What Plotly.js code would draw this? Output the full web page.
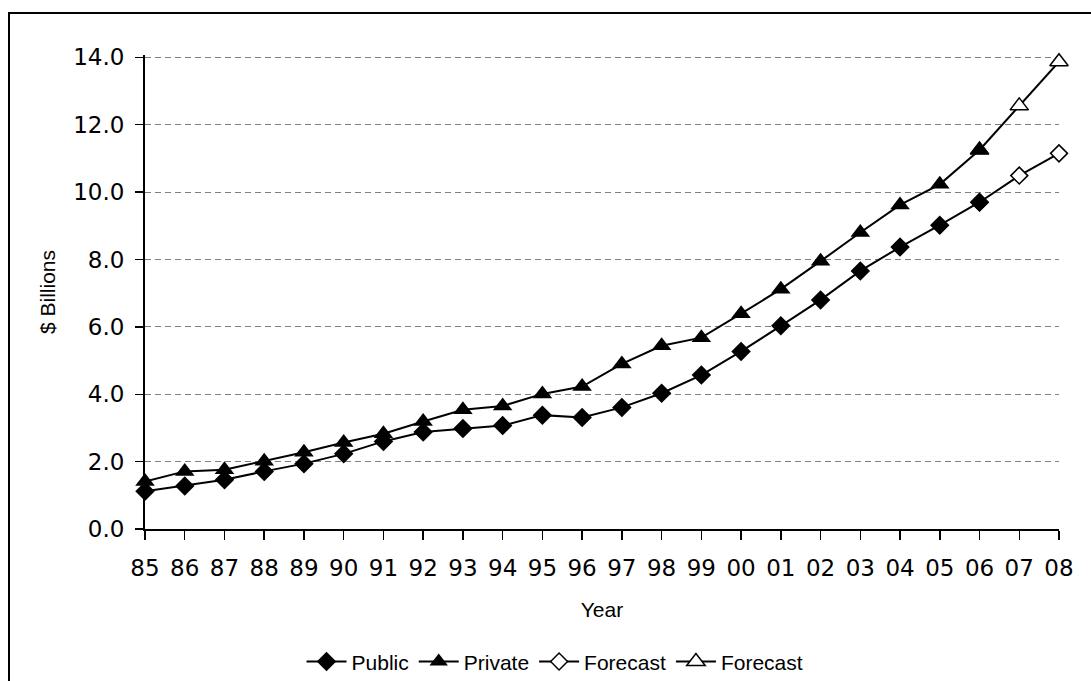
<!DOCTYPE html>
<html>
<head>
<meta charset="utf-8">
<script src="https://cdn.plot.ly/plotly-3.0.1.min.js"></script>
<style>
  html, body { margin: 0; padding: 0; background: #fff; overflow: hidden; }
  #wrap { position: relative; width: 1091px; height: 681px; overflow: hidden; }
  #chart { position: absolute; left: 0; top: 0; width: 1091px; height: 681px; }
  #frame { position: absolute; left: 8px; top: 12px; width: 1200px; height: 900px;
           border: 2px solid #000; pointer-events: none; box-sizing: border-box; }
</style>
</head>
<body>
<div id="wrap">
  <div id="chart"></div>
  <div id="frame"></div>
</div>
<script>
// ---- data ----
const years = ["85","86","87","88","89","90","91","92","93","94","95","96",
               "97","98","99","00","01","02","03","04","05","06","07","08"];
const actualYears = years.slice(0, 22);          // 85 .. 06
const forecastYears = ["07","08"];
const publicVals  = [1.12,1.28,1.46,1.71,1.94,2.23,2.60,2.88,2.98,3.07,3.38,3.31,
                     3.61,4.03,4.57,5.27,6.03,6.80,7.66,8.37,9.02,9.70];
const privateVals = [1.41,1.71,1.76,2.01,2.28,2.57,2.83,3.19,3.54,3.65,4.01,4.23,
                     4.90,5.44,5.68,6.39,7.12,7.95,8.80,9.62,10.23,11.25];
const forecastPublic  = [10.49, 11.15];
const forecastPrivate = [12.56, 13.87];
const yTickVals = [0,2,4,6,8,10,12,14];
const yTickText = ["0.0","2.0","4.0","6.0","8.0","10.0","12.0","14.0"];

// forecast lines start from the last actual point
const lastYear = actualYears[actualYears.length - 1];
const fcX = [lastYear].concat(forecastYears);
const fcPub = [publicVals[publicVals.length - 1]].concat(forecastPublic);
const fcPriv = [privateVals[privateVals.length - 1]].concat(forecastPrivate);

const lineStyle = {color: "#000", width: 2};
const traces = [
  {x: fcX, y: fcPub, name: "Forecast", type: "scatter", mode: "lines+markers",
   line: lineStyle, legendrank: 3, cliponaxis: false,
   marker: {symbol: "diamond", size: 13, color: "#fff", line: {color: "#000", width: 1.5}}},
  {x: fcX, y: fcPriv, name: "Forecast", type: "scatter", mode: "lines+markers",
   line: lineStyle, legendrank: 4, cliponaxis: false,
   marker: {symbol: "triangle-up", size: 16, color: "#fff", line: {color: "#000", width: 1.5}}},
  {x: actualYears, y: publicVals, name: "Public", type: "scatter", mode: "lines+markers",
   line: lineStyle, legendrank: 1, cliponaxis: false,
   marker: {symbol: "diamond", size: 15, color: "#000", line: {color: "#000", width: 0}}},
  {x: actualYears, y: privateVals, name: "Private", type: "scatter", mode: "lines+markers",
   line: lineStyle, legendrank: 2, cliponaxis: false,
   marker: {symbol: "triangle-up", size: 17, color: "#000", line: {color: "#000", width: 0}}}
];

const tickFont = {family: "DejaVu Sans, Verdana, sans-serif", size: 23, color: "#000"};
const textFont = {family: "Liberation Sans, Arial, sans-serif", size: 21, color: "#000"};

const layout = {
  width: 1091, height: 681,
  margin: {l: 145, r: 32, t: 55, b: 152, autoexpand: false},
  paper_bgcolor: "rgba(0,0,0,0)", plot_bgcolor: "rgba(0,0,0,0)",
  showlegend: true,
  legend: {orientation: "h", x: 0.4486, xanchor: "center", y: -0.237, yanchor: "top",
           font: textFont, traceorder: "normal", itemwidth: 40},
  xaxis: {
    type: "category", categoryorder: "array", categoryarray: years,
    range: [0, 23], showline: true, linecolor: "#000", linewidth: 2,
    ticks: "outside", ticklen: 9, tickwidth: 1.5, tickcolor: "#000",
    tickfont: tickFont, showgrid: false, zeroline: false, ticklabelstandoff: 8,
    automargin: false,
    title: {text: "Year", font: textFont, standoff: 23}, fixedrange: true
  },
  yaxis: {
    range: [0, 14.07], tickvals: yTickVals, ticktext: yTickText,
    showline: true, linecolor: "#000", linewidth: 2,
    ticks: "outside", ticklen: 8, tickwidth: 1.5, tickcolor: "#000",
    tickfont: tickFont, ticklabelstandoff: 6, automargin: false,
    showgrid: true, gridcolor: "#7f7f7f", gridwidth: 1, griddash: "6px,4px",
    zeroline: false,
    title: {text: "$ Billions", font: textFont, standoff: 12}, fixedrange: true
  }
};

Plotly.newPlot("chart", traces, layout, {displayModeBar: false, staticPlot: true});
</script>
</body>
</html>
